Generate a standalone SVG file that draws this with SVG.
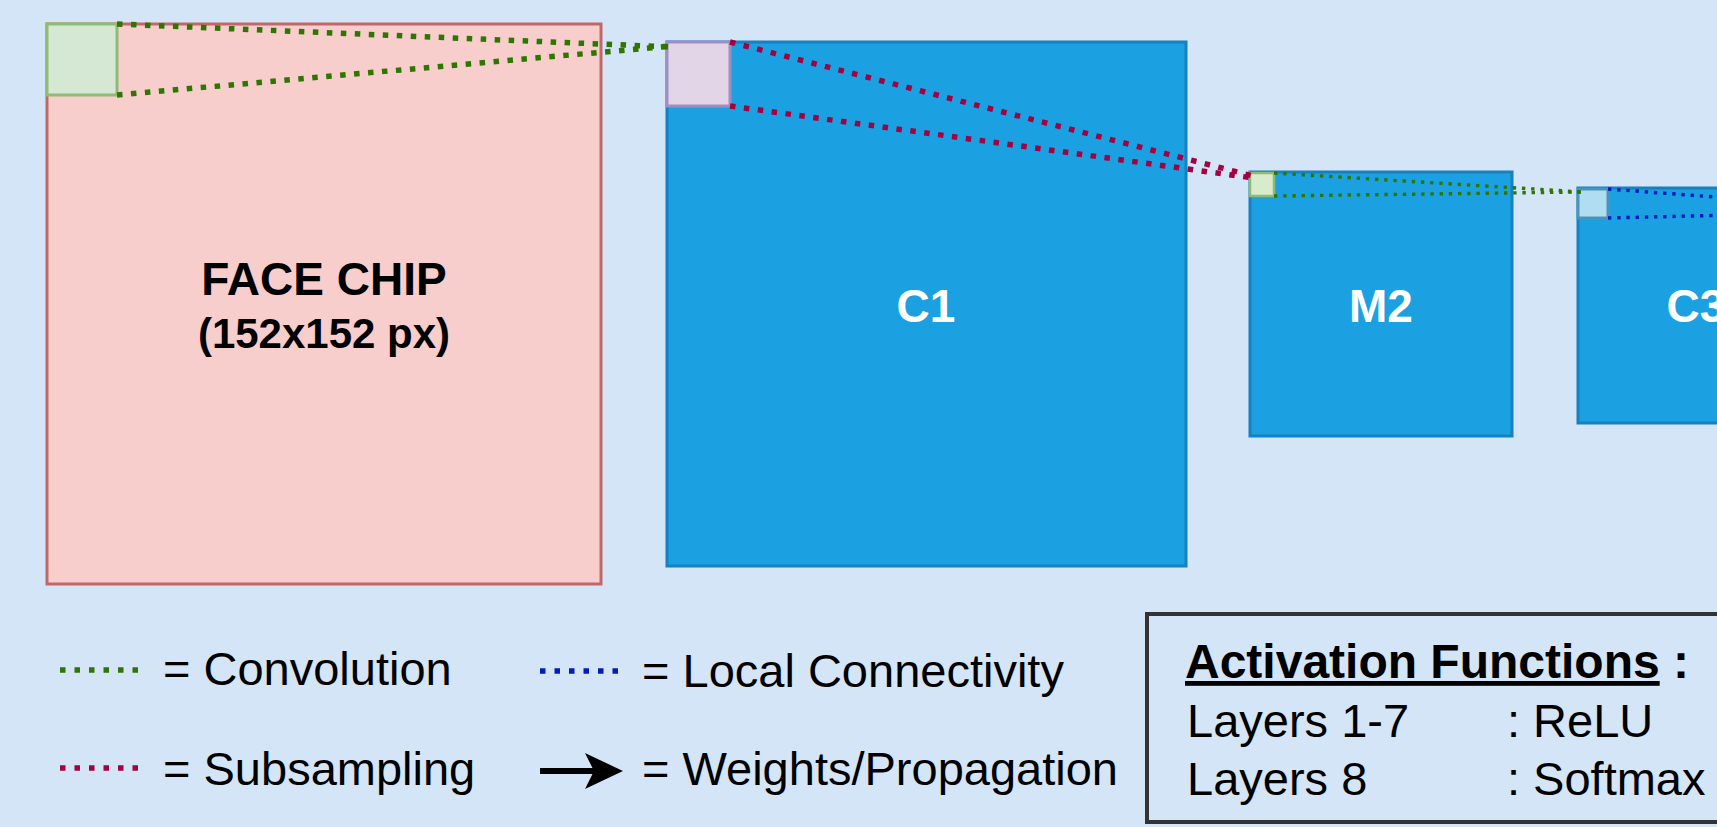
<svg xmlns="http://www.w3.org/2000/svg" width="1717" height="827" viewBox="0 0 1717 827">
  <defs>
    <style>
      .txt { font-family: "Liberation Sans", Arial, sans-serif; fill: #000; }
      .bold { font-weight: bold; }
      .node-label { font-family: "Liberation Sans", Arial, sans-serif; font-weight: bold; font-size: 46px; fill: #ffffff; text-anchor: middle; }
      .layer { fill: #1ba1e2; stroke: #1780c0; stroke-width: 3; }
      .conv { fill: none; stroke: #2d7600; }
      .sub { fill: none; stroke: #a50040; }
      .local { fill: none; stroke: #001dbc; }
      .big { stroke-width: 5.5; stroke-dasharray: 5.5 8.5; }
      .small { stroke-width: 3.4; stroke-dasharray: 3.4 5.8; }
      .legend-dots { stroke-width: 5.5; stroke-dasharray: 5.5 9; }
    </style>
    <marker id="arrowHead" markerUnits="userSpaceOnUse" markerWidth="40" markerHeight="40" refX="25" refY="18" orient="auto">
      <path d="M0,0 L38,18 L0,36 L9,18 Z" fill="#000"/>
    </marker>
  </defs>

  <rect x="0" y="0" width="1717" height="827" fill="#d4e5f7"/>

  <g id="face-chip">
    <rect x="47" y="24" width="554" height="560" fill="#f8cecc" stroke="#bf6868" stroke-width="3"/>
    <text class="txt bold" x="324" y="295" font-size="46" text-anchor="middle">FACE CHIP</text>
    <text class="txt bold" x="324" y="348" font-size="42" text-anchor="middle">(152x152 px)</text>
  </g>
  <g id="face-kernel">
    <rect x="47" y="24" width="70" height="71" fill="#d5e8d4" stroke="#8fbc72" stroke-width="3"/>
  </g>

  <g id="c1">
    <rect class="layer" x="667" y="42" width="519" height="524"/>
    <text class="node-label" x="926" y="322">C1</text>
  </g>
  <g id="c1-kernel">
    <rect x="667" y="42" width="63" height="64" fill="#e2d5e8" stroke="#a08ec0" stroke-width="3"/>
  </g>

  <g id="m2">
    <rect class="layer" x="1250" y="172" width="262" height="264"/>
    <text class="node-label" x="1381" y="322">M2</text>
  </g>
  <g id="m2-kernel">
    <rect x="1250" y="173" width="24" height="23" fill="#d8eccb" stroke="#8fbc72" stroke-width="2.5"/>
  </g>

  <g id="c3">
    <rect class="layer" x="1578" y="188" width="240" height="235"/>
    <text class="node-label" x="1696" y="322">C3</text>
  </g>
  <g id="c3-kernel">
    <rect x="1578" y="189" width="30" height="29" fill="#b1ddf0" stroke="#4a93bd" stroke-width="3"/>
  </g>

  <g id="connectors">
    <line class="conv big" x1="117" y1="24" x2="672" y2="47"/>
    <line class="conv big" x1="117" y1="95" x2="672" y2="46"/>
    <line class="sub big" x1="730" y1="42" x2="1253" y2="176"/>
    <line class="sub big" x1="730" y1="106" x2="1253" y2="178"/>
    <line class="conv small" x1="1274" y1="173" x2="1582" y2="192"/>
    <line class="conv small" x1="1274" y1="196" x2="1582" y2="192"/>
    <line class="local small" x1="1608" y1="189" x2="1902" y2="211"/>
    <line class="local small" x1="1608" y1="218" x2="1902" y2="211"/>
  </g>

  <g id="legend">
    <line class="conv legend-dots" x1="60" y1="670" x2="142" y2="670"/>
    <text class="txt" x="163" y="685" font-size="47">= Convolution</text>
    <line class="sub legend-dots" x1="60" y1="768" x2="142" y2="768"/>
    <text class="txt" x="163" y="785" font-size="47">= Subsampling</text>
    <line class="local legend-dots" x1="540" y1="671" x2="623" y2="671"/>
    <text class="txt" x="642" y="687" font-size="47">= Local Connectivity</text>
    <line x1="540" y1="771" x2="610" y2="771" stroke="#000" stroke-width="6" marker-end="url(#arrowHead)"/>
    <text class="txt" x="642" y="785" font-size="47">= Weights/Propagation</text>
  </g>

  <g id="activation-functions">
    <rect x="1147" y="614" width="650" height="208" fill="none" stroke="#333" stroke-width="4"/>
    <text class="txt bold" x="1185" y="678" font-size="48"><tspan text-decoration="underline">Activation Functions</tspan> :</text>
    <text class="txt" x="1187" y="737" font-size="47">Layers 1-7</text>
    <text class="txt" x="1507" y="737" font-size="47">: ReLU</text>
    <text class="txt" x="1187" y="795" font-size="47">Layers 8</text>
    <text class="txt" x="1507" y="795" font-size="47">: Softmax</text>
  </g>
</svg>
